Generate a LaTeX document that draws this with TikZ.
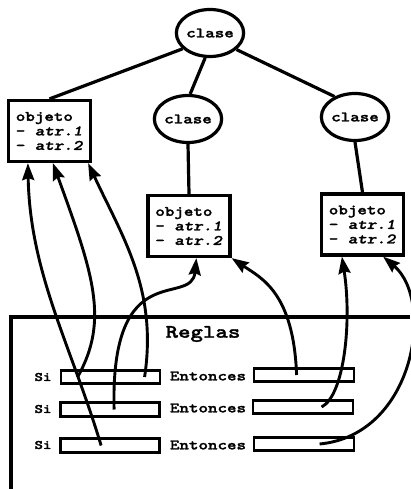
\documentclass[tikz,border=0pt]{standalone}
\usepackage{fontspec}
\newfontfamily\courfont[Extension=.otf,UprightFont=*-bold,ItalicFont=*-boldoblique,FakeStretch=1.25,FakeBold=1.6]{lmmonolt10}
\usetikzlibrary{shapes.geometric,arrows.meta}
\newlength{\du}
\setlength{\du}{1pt}
\tikzset{
  clase/.style={ellipse,draw,fill=white,line width=3.2\du,minimum width=64\du,minimum height=47\du,inner sep=0pt,font={\courfont\fontsize{14.5}{15}\selectfont}},
  objeto/.style={rectangle,draw,fill=white,line width=3.2\du,minimum width=82\du,minimum height=61\du,align=left,inner sep=0pt,font={\courfont\fontsize{14.5}{14.5}\selectfont}},
  campo/.style={rectangle,draw,line width=2.8\du,minimum width=99\du,minimum height=13.5\du,inner sep=0pt},
  rotulo/.style={inner sep=0pt,font={\courfont\fontsize{14.5}{15}\selectfont}},
  rama/.style={line width=3.2\du},
  enlace/.style={line width=2.9\du,-{Stealth[length=17pt,width=12pt,inset=2pt]}}
}

\begin{document}
\begin{tikzpicture}
\pgftransformxscale{1.000000}
\pgftransformyscale{-1.000000}
\definecolor{dialinecolor}{rgb}{0.000000, 0.000000, 0.000000}
\pgfsetstrokecolor{dialinecolor}
\useasboundingbox (0\du,0\du) rectangle (410\du,489\du);
% clases
\node[clase] (claseRaiz) at (210\du,33\du){clase};
\node[clase] (claseMedio) at (188\du,119\du){clase};
\node[clase] (claseDer) at (355\du,117\du){clase};
% objetos
\node[objeto] (objIzq) at (49.5\du,131\du){objeto\\- \textit{atr.1}\\- \textit{atr.2}};
\node[objeto] (objMedio) at (189\du,226\du){objeto\\- \textit{atr.1}\\- \textit{atr.2}};
\node[objeto] (objDer) at (362.5\du,224.5\du){objeto\\- \textit{atr.1}\\- \textit{atr.2}};
\draw[rama] (claseRaiz.210)--(objIzq.north);
\draw[rama] (claseRaiz.259)--(claseMedio.85);
\draw[rama] (claseRaiz.-32)--(claseDer.135);
\draw[rama] (claseMedio.south)--(objMedio.north);
\draw[rama] (claseDer.south)--(objDer.north);
% reglas
\draw[line width=3.2\du] (11\du,489\du)--(11\du,317\du)--(410\du,317\du);
\node[rotulo,font={\courfont\fontsize{19}{19}\selectfont}] (reglas) at (203\du,334\du){Reglas};
\node[rotulo,font={\courfont\fontsize{13}{13}\selectfont}] (si1lbl) at (43\du,377\du){Si};
\node[rotulo,font={\courfont\fontsize{13}{13}\selectfont}] (si2lbl) at (43\du,409\du){Si};
\node[rotulo,font={\courfont\fontsize{13}{13}\selectfont}] (si3lbl) at (43\du,445\du){Si};
\node[campo] (si1) at (110.5\du,377\du){};
\node[campo] (si2) at (110\du,409.5\du){};
\node[campo] (si3) at (110\du,445.5\du){};
\node[rotulo] (ent1lbl) at (208\du,376\du){Entonces};
\node[rotulo] (ent2lbl) at (208\du,408\du){Entonces};
\node[rotulo] (ent3lbl) at (208\du,445\du){Entonces};
\node[campo,minimum width=100\du] (ent1) at (304\du,375\du){};
\node[campo,minimum width=100\du] (ent2) at (303\du,407\du){};
\node[campo,minimum width=100\du] (ent3) at (304\du,444\du){};
% enlaces
\draw[enlace] ([xshift=42\du]si3.west) .. controls +(-30\du,-100\du) and +(2\du,110\du) .. ([xshift=21\du]objIzq.south west);
\draw[enlace] ([xshift=18\du]si1.west) .. controls +(32\du,-57\du) and +(40\du,110\du) .. ([xshift=46\du]objIzq.south west);
\draw[enlace] ([xshift=85\du]si1.west) .. controls +(13\du,-87\du) and +(35\du,75\du) .. ([xshift=-4\du]objIzq.south east);
\draw[enlace] ([xshift=55\du]si2.west) .. controls +(-4\du,-155\du) and +(-5\du,50\du) .. ([xshift=50\du]objMedio.south west);
\draw[enlace] ([xshift=44\du]ent1.west) .. controls +(-3\du,-82\du) and +(30\du,20\du) .. (objMedio.south east);
\draw[enlace] ([xshift=70\du]ent2.west) .. controls +(23\du,-12\du) and +(10\du,64\du) .. ([xshift=22\du]objDer.south west);
\draw[enlace] ([xshift=67\du]ent3.west) .. controls +(95\du,-9\du) and +(52\du,44\du) .. ([xshift=-22\du]objDer.south east);
\end{tikzpicture}
\end{document}
